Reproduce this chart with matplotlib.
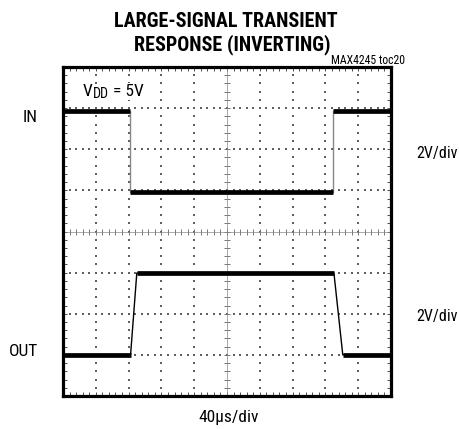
import numpy as np
import matplotlib
matplotlib.use("Agg")
import matplotlib.pyplot as plt
from matplotlib import font_manager

# scope traces, in screen divisions (10 x 8 graticule)
time_in = [0, 2.04, 2.04, 8.22, 8.22, 10]
level_in = [6.92, 6.92, 4.97, 4.97, 6.92, 6.92]
time_out = [0, 2.06, 2.25, 8.26, 8.53, 10]
level_out = [1.0, 1.0, 2.99, 2.99, 1.0, 1.0]

title_lines = ["LARGE-SIGNAL TRANSIENT", "RESPONSE (INVERTING)"]
channel_names = ["IN", "OUT"]
channel_scales = ["2V/div", "2V/div"]
time_scale = "40\u00b5s/div"
supply = ["V", "DD", " = 5V"]

# pick a narrow sans that is installed
have = {f.name for f in font_manager.fontManager.ttflist}
narrow = next((n for n in ['Roboto Condensed', 'Archivo Narrow', 'Barlow Semi Condensed',
                           'Asap Condensed'] if n in have), 'DejaVu Sans')
plt.rcParams['font.family'] = [narrow, 'DejaVu Sans']

W, H = 459, 429
fig = plt.figure(figsize=(W / 100, H / 100), dpi=100)
ax = fig.add_axes([63 / W, 1 - 396 / H, 328 / W, 329 / H])
ax.set_xlim(0, 10)
ax.set_ylim(0, 8)


def px(x, y):
    return x / W, 1 - y / H


# graticule: dotted division lines
grid_c = '#606060'
minor = np.arange(0, 10.001, 0.2)
minor_y = np.arange(0, 8.001, 0.2)
for gx in range(1, 10):
    if gx == 5:
        continue
    ax.scatter(np.full_like(minor_y, gx), minor_y, s=0.7, marker='s', c=grid_c, lw=0)
for gy in range(1, 8):
    if gy == 4:
        continue
    ax.scatter(minor, np.full_like(minor, gy), s=0.7, marker='s', c=grid_c, lw=0)

# centre cross with minor ticks
ax.axhline(4, color='#888888', lw=0.5)
ax.axvline(5, color='#888888', lw=0.5)
ax.scatter(minor, np.full_like(minor, 4), marker='|', s=14, c=grid_c, lw=0.6)
ax.scatter(np.full_like(minor_y, 5), minor_y, marker='_', s=14, c=grid_c, lw=0.6)

# border ticks
ax.set_xticks(range(0, 11))
ax.set_yticks(range(0, 9))
ax.set_xticks(minor, minor=True)
ax.set_yticks(minor_y, minor=True)
ax.tick_params(which='both', direction='in', length=3, width=0.6, color='#333333',
               top=True, right=True, labelbottom=False, labelleft=False)
for s in ax.spines.values():
    s.set_linewidth(2.3)

# traces: thin edges, thick flat parts
ax.plot(time_in, level_in, color='#888888', lw=1.0)
ax.plot(time_out, level_out, color='black', lw=1.0)
for t, v in ((time_in, level_in), (time_out, level_out)):
    for i in range(len(t) - 1):
        if v[i] == v[i + 1]:
            ax.plot(t[i:i + 2], v[i:i + 2], color='black', lw=3.4, solid_capstyle='butt')

# text
fig.text(*px(226, 27), title_lines[0], ha='center', va='baseline',
         fontsize=14.5, fontweight='heavy')
fig.text(*px(232, 50), title_lines[1], ha='center', va='baseline',
         fontsize=14.5, fontweight='heavy')
fig.text(*px(405, 64), "MAX4245 toc20", ha='right', va='baseline', fontsize=8.5)
fig.text(*px(38, 122), channel_names[0], ha='right', va='baseline', fontsize=12.5)
fig.text(*px(38, 356), channel_names[1], ha='right', va='baseline', fontsize=12.5)
fig.text(*px(416, 158), channel_scales[0], ha='left', va='baseline', fontsize=11.5)
fig.text(*px(416, 321), channel_scales[1], ha='left', va='baseline', fontsize=11.5)
fig.text(*px(229, 422), time_scale, ha='center', va='baseline', fontsize=12.5)

# V_DD = 5V, built piece by piece so the subscript stays large
r = fig.canvas.get_renderer()
x0 = 83
for piece, size, drop in zip(supply, [12.5, 10, 12.5], [0, 2, 0]):
    t = fig.text(*px(x0, 96 + drop), piece, ha='left', va='baseline', fontsize=size,
                 bbox=dict(fc='white', ec='none', pad=0.5))
    x0 = t.get_window_extent(r).x1

fig.savefig("out.png", dpi=100)
